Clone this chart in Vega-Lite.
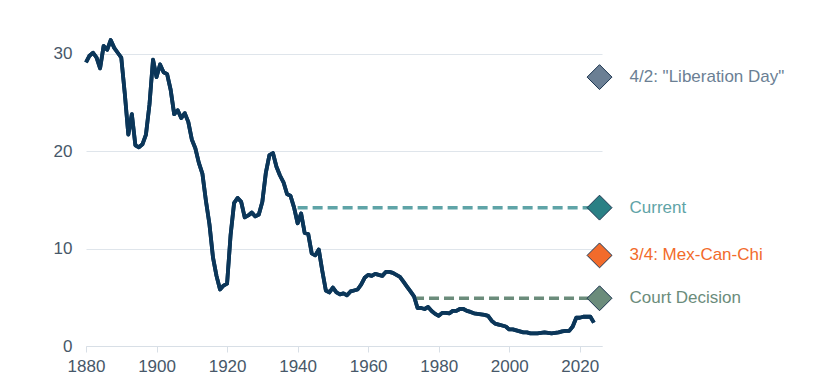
{
  "$schema": "https://vega.github.io/schema/vega-lite/v6.json",
  "width": 516,
  "height": 341,
  "autosize": {"type": "none"},
  "padding": {"left": 86, "top": 5, "right": 224, "bottom": 45},
  "background": "white",
  "config": {"view": {"stroke": null}, "font": "Liberation Sans"},
  "datasets": {
    "tariff": [
      {"year": 1880, "rate": 29.1}, {"year": 1881, "rate": 29.8}, {"year": 1882, "rate": 30.1}, {"year": 1883, "rate": 29.6},
      {"year": 1884, "rate": 28.5}, {"year": 1885, "rate": 30.8}, {"year": 1886, "rate": 30.4}, {"year": 1887, "rate": 31.4},
      {"year": 1888, "rate": 30.6}, {"year": 1889, "rate": 30.1}, {"year": 1890, "rate": 29.6}, {"year": 1891, "rate": 25.9},
      {"year": 1892, "rate": 21.7}, {"year": 1893, "rate": 23.8}, {"year": 1894, "rate": 20.6}, {"year": 1895, "rate": 20.4},
      {"year": 1896, "rate": 20.7}, {"year": 1897, "rate": 21.7}, {"year": 1898, "rate": 24.8}, {"year": 1899, "rate": 29.4},
      {"year": 1900, "rate": 27.6}, {"year": 1901, "rate": 28.9}, {"year": 1902, "rate": 28.1}, {"year": 1903, "rate": 27.9},
      {"year": 1904, "rate": 26.3}, {"year": 1905, "rate": 23.8}, {"year": 1906, "rate": 24.2}, {"year": 1907, "rate": 23.4},
      {"year": 1908, "rate": 23.9}, {"year": 1909, "rate": 23.0}, {"year": 1910, "rate": 21.2}, {"year": 1911, "rate": 20.3},
      {"year": 1912, "rate": 18.8}, {"year": 1913, "rate": 17.7}, {"year": 1914, "rate": 14.9}, {"year": 1915, "rate": 12.5},
      {"year": 1916, "rate": 9.1}, {"year": 1917, "rate": 7.2}, {"year": 1918, "rate": 5.8}, {"year": 1919, "rate": 6.2},
      {"year": 1920, "rate": 6.4}, {"year": 1921, "rate": 11.4}, {"year": 1922, "rate": 14.7}, {"year": 1923, "rate": 15.2},
      {"year": 1924, "rate": 14.8}, {"year": 1925, "rate": 13.2}, {"year": 1926, "rate": 13.4}, {"year": 1927, "rate": 13.7},
      {"year": 1928, "rate": 13.3}, {"year": 1929, "rate": 13.5}, {"year": 1930, "rate": 14.8}, {"year": 1931, "rate": 17.8},
      {"year": 1932, "rate": 19.6}, {"year": 1933, "rate": 19.8}, {"year": 1934, "rate": 18.4}, {"year": 1935, "rate": 17.5},
      {"year": 1936, "rate": 16.8}, {"year": 1937, "rate": 15.6}, {"year": 1938, "rate": 15.4}, {"year": 1939, "rate": 14.2},
      {"year": 1940, "rate": 12.6}, {"year": 1941, "rate": 13.6}, {"year": 1942, "rate": 11.6}, {"year": 1943, "rate": 11.5},
      {"year": 1944, "rate": 9.5}, {"year": 1945, "rate": 9.3}, {"year": 1946, "rate": 9.9}, {"year": 1947, "rate": 7.7},
      {"year": 1948, "rate": 5.7}, {"year": 1949, "rate": 5.5}, {"year": 1950, "rate": 6.0}, {"year": 1951, "rate": 5.5},
      {"year": 1952, "rate": 5.3}, {"year": 1953, "rate": 5.4}, {"year": 1954, "rate": 5.2}, {"year": 1955, "rate": 5.6},
      {"year": 1956, "rate": 5.7}, {"year": 1957, "rate": 5.8}, {"year": 1958, "rate": 6.3}, {"year": 1959, "rate": 7.0},
      {"year": 1960, "rate": 7.3}, {"year": 1961, "rate": 7.2}, {"year": 1962, "rate": 7.4}, {"year": 1963, "rate": 7.3},
      {"year": 1964, "rate": 7.2}, {"year": 1965, "rate": 7.6}, {"year": 1966, "rate": 7.6}, {"year": 1967, "rate": 7.5},
      {"year": 1968, "rate": 7.3}, {"year": 1969, "rate": 7.1}, {"year": 1970, "rate": 6.6}, {"year": 1971, "rate": 6.1},
      {"year": 1972, "rate": 5.6}, {"year": 1973, "rate": 5.1}, {"year": 1974, "rate": 3.9}, {"year": 1975, "rate": 3.9},
      {"year": 1976, "rate": 3.8}, {"year": 1977, "rate": 4.0}, {"year": 1978, "rate": 3.6}, {"year": 1979, "rate": 3.3},
      {"year": 1980, "rate": 3.1}, {"year": 1981, "rate": 3.4}, {"year": 1982, "rate": 3.4}, {"year": 1983, "rate": 3.35},
      {"year": 1984, "rate": 3.6}, {"year": 1985, "rate": 3.6}, {"year": 1986, "rate": 3.8}, {"year": 1987, "rate": 3.8},
      {"year": 1988, "rate": 3.6}, {"year": 1989, "rate": 3.5}, {"year": 1990, "rate": 3.35}, {"year": 1991, "rate": 3.3},
      {"year": 1992, "rate": 3.25}, {"year": 1993, "rate": 3.2}, {"year": 1994, "rate": 3.1}, {"year": 1995, "rate": 2.6},
      {"year": 1996, "rate": 2.3}, {"year": 1997, "rate": 2.2}, {"year": 1998, "rate": 2.1}, {"year": 1999, "rate": 2.0},
      {"year": 2000, "rate": 1.7}, {"year": 2001, "rate": 1.7}, {"year": 2002, "rate": 1.6}, {"year": 2003, "rate": 1.5},
      {"year": 2004, "rate": 1.4}, {"year": 2005, "rate": 1.4}, {"year": 2006, "rate": 1.3}, {"year": 2007, "rate": 1.3},
      {"year": 2008, "rate": 1.3}, {"year": 2009, "rate": 1.35}, {"year": 2010, "rate": 1.4}, {"year": 2011, "rate": 1.35},
      {"year": 2012, "rate": 1.3}, {"year": 2013, "rate": 1.35}, {"year": 2014, "rate": 1.4}, {"year": 2015, "rate": 1.5},
      {"year": 2016, "rate": 1.55}, {"year": 2017, "rate": 1.55}, {"year": 2018, "rate": 2.0}, {"year": 2019, "rate": 2.9},
      {"year": 2020, "rate": 2.9}, {"year": 2021, "rate": 3.0}, {"year": 2022, "rate": 3.0}, {"year": 2023, "rate": 3.0},
      {"year": 2024, "rate": 2.4}
    ],
    "refs": [
      {"label": "Current", "start": 1940, "year": 2025.6, "rate": 14.2},
      {"label": "Court Decision", "start": 1973, "year": 2025.6, "rate": 4.9}
    ],
    "scenarios": [
      {"label": "4/2: \"Liberation Day\"", "year": 2025.6, "rate": 27.6},
      {"label": "Current", "year": 2025.6, "rate": 14.2},
      {"label": "3/4: Mex-Can-Chi", "year": 2025.6, "rate": 9.3},
      {"label": "Court Decision", "year": 2025.6, "rate": 4.9}
    ]
  },
  "layer": [
    {
      "data": {"name": "tariff"},
      "mark": {"type": "line", "strokeWidth": 3.8, "color": "#0b3659", "strokeJoin": "round"},
      "encoding": {
        "x": {
          "field": "year", "type": "quantitative",
          "scale": {"domain": [1880, 2026.3], "nice": false, "zero": false},
          "axis": {
            "title": null, "grid": false,
            "values": [1880, 1890, 1900, 1910, 1920, 1930, 1940, 1950, 1960, 1970, 1980, 1990, 2000, 2010, 2020],
            "format": "d",
            "labelExpr": "datum.value % 20 == 0 ? datum.label : ''",
            "labelFlush": false, "labelOverlap": false,
            "domainColor": "#d8dfe6", "tickColor": "#d8dfe6", "tickSize": 6,
            "labelColor": "#475869", "labelFontSize": 17, "labelPadding": 6
          }
        },
        "y": {
          "field": "rate", "type": "quantitative",
          "scale": {"domain": [0, 35], "nice": false},
          "axis": {
            "title": null, "values": [0, 10, 20, 30],
            "domain": false, "ticks": false,
            "gridColor": "#dfe5eb", "gridWidth": 1,
            "labelColor": "#475869", "labelFontSize": 17, "labelPadding": 14
          }
        }
      }
    },
    {
      "data": {"name": "refs"},
      "mark": {"type": "rule", "strokeWidth": 3.5, "strokeDash": [10, 5], "strokeCap": "butt"},
      "encoding": {
        "x": {"field": "start", "type": "quantitative"},
        "x2": {"field": "year"},
        "y": {"field": "rate", "type": "quantitative"},
        "color": {
          "field": "label", "type": "nominal", "legend": null,
          "scale": {"domain": ["4/2: \"Liberation Day\"", "Current", "3/4: Mex-Can-Chi", "Court Decision"], "range": ["#6b7f94", "#5fa4a7", "#f26b2b", "#6b8c7b"]}
        }
      }
    },
    {
      "data": {"name": "tariff"},
      "mark": {"type": "line", "strokeWidth": 3.8, "color": "#0b3659", "strokeJoin": "round"},
      "encoding": {
        "x": {"field": "year", "type": "quantitative"},
        "y": {"field": "rate", "type": "quantitative"}
      }
    },
    {
      "data": {"name": "scenarios"},
      "mark": {"type": "point", "shape": "diamond", "filled": true, "size": 620, "opacity": 1, "stroke": "#1c3550", "strokeWidth": 1},
      "encoding": {
        "x": {"field": "year", "type": "quantitative"},
        "y": {"field": "rate", "type": "quantitative"},
        "fill": {
          "field": "label", "type": "nominal", "legend": null,
          "scale": {"domain": ["4/2: \"Liberation Day\"", "Current", "3/4: Mex-Can-Chi", "Court Decision"], "range": ["#6b7f94", "#2a8085", "#f26b2b", "#6b8c7b"]}
        }
      }
    },
    {
      "data": {"name": "scenarios"},
      "mark": {"type": "text", "align": "left", "baseline": "middle", "dx": 30, "fontSize": 17},
      "encoding": {
        "x": {"field": "year", "type": "quantitative"},
        "y": {"field": "rate", "type": "quantitative"},
        "text": {"field": "label"},
        "color": {
          "field": "label", "type": "nominal", "legend": null,
          "scale": {"domain": ["4/2: \"Liberation Day\"", "Current", "3/4: Mex-Can-Chi", "Court Decision"], "range": ["#6b7f94", "#2a8085", "#f26b2b", "#6b8c7b"]}
        }
      }
    }
  ]
}
